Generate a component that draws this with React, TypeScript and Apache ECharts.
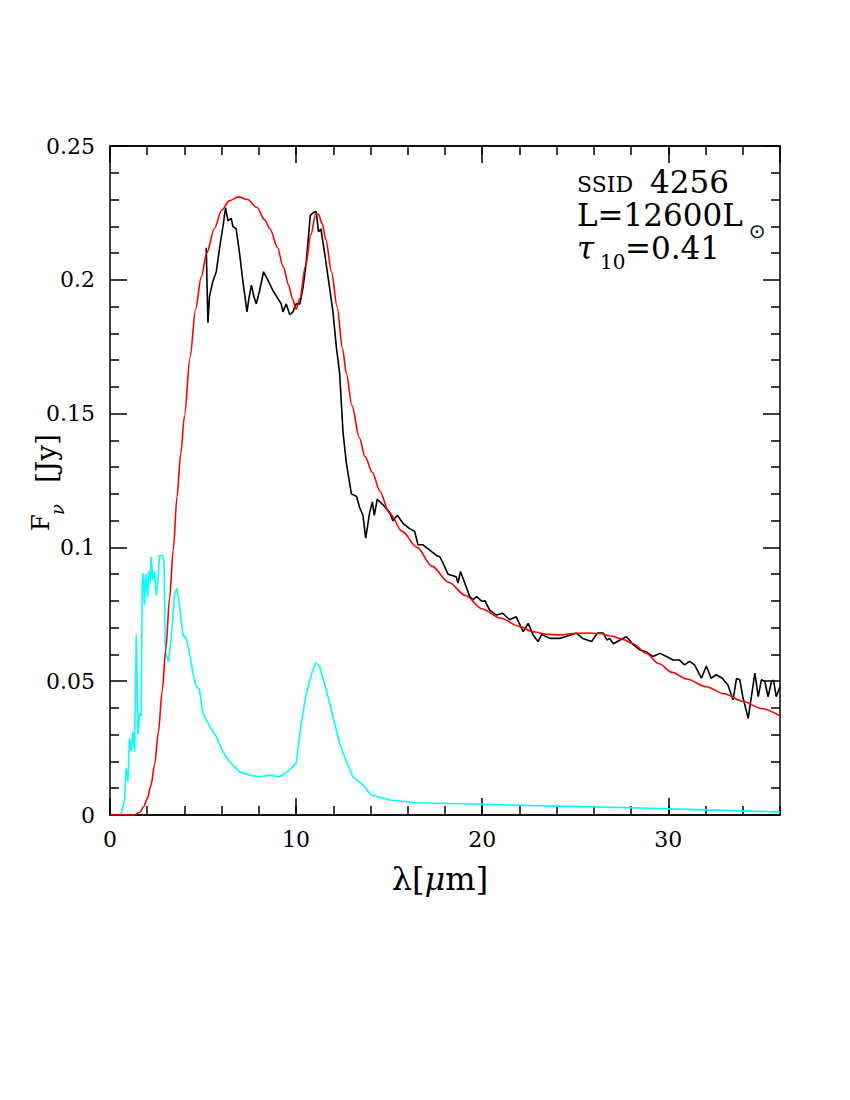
import React, { useEffect, useRef } from "react";
import * as echarts from "echarts";

// Observed spectrum (black): [lambda (um), F_nu (Jy)]
const observed: number[][] = [
  [5.17, 0.212], [5.26, 0.184], [5.35, 0.194], [5.51, 0.199], [5.71, 0.203], [5.89, 0.212], [6.07, 0.22], [6.21, 0.227],
  [6.34, 0.222], [6.51, 0.223], [6.6, 0.22], [6.78, 0.219], [6.96, 0.21], [7.13, 0.2], [7.36, 0.188], [7.46, 0.193],
  [7.6, 0.198], [7.72, 0.194], [7.86, 0.191], [8.04, 0.196], [8.25, 0.203], [8.48, 0.2], [8.75, 0.196], [8.93, 0.194],
  [9.2, 0.191], [9.29, 0.188], [9.47, 0.191], [9.65, 0.187], [9.83, 0.188], [10.0, 0.191], [10.2, 0.191], [10.37, 0.197],
  [10.55, 0.207], [10.76, 0.224], [10.9, 0.225], [11.08, 0.2255], [11.2, 0.218], [11.33, 0.219], [11.53, 0.21], [11.8, 0.197],
  [11.98, 0.188], [12.16, 0.175], [12.34, 0.165], [12.52, 0.143], [12.7, 0.1315], [12.97, 0.12], [13.25, 0.119], [13.41, 0.115],
  [13.59, 0.112], [13.74, 0.1035], [13.95, 0.113], [14.1, 0.117], [14.2, 0.112], [14.36, 0.118], [14.66, 0.116], [15.03, 0.113],
  [15.2, 0.11], [15.44, 0.112], [15.74, 0.109], [16.1, 0.107], [16.37, 0.106], [16.55, 0.101], [16.8, 0.101], [17.18, 0.099],
  [17.54, 0.097], [17.72, 0.0965], [17.9, 0.094], [18.16, 0.09], [18.6, 0.089], [18.7, 0.0867], [18.83, 0.091], [19.06, 0.0867],
  [19.33, 0.0816], [19.5, 0.0804], [19.7, 0.0816], [19.97, 0.0799], [20.15, 0.08], [20.4, 0.0766], [20.76, 0.0747], [21.1, 0.0754],
  [21.47, 0.073], [21.82, 0.0741], [22.2, 0.0685], [22.47, 0.0716], [22.74, 0.0672], [23.0, 0.0648], [23.2, 0.0675], [23.63, 0.066],
  [24.17, 0.066], [24.5, 0.0667], [25.06, 0.068], [25.4, 0.066], [25.87, 0.0648], [26.2, 0.068], [26.5, 0.068], [26.7, 0.0654],
  [26.85, 0.066], [27.05, 0.064], [27.4, 0.0654], [27.75, 0.0666], [28.1, 0.0638], [28.47, 0.0617], [28.8, 0.061], [29.18, 0.0592],
  [29.54, 0.0604], [29.9, 0.0592], [30.26, 0.0579], [30.6, 0.0579], [30.87, 0.0561], [31.14, 0.0574], [31.41, 0.0561], [31.78, 0.0511],
  [32.04, 0.0557], [32.3, 0.0511], [32.57, 0.0524], [32.9, 0.0511], [33.2, 0.0486], [33.48, 0.043], [33.66, 0.051], [33.84, 0.0505],
  [34.0, 0.0442], [34.29, 0.0361], [34.65, 0.053], [34.83, 0.0442], [35.0, 0.0505], [35.18, 0.05], [35.36, 0.0442], [35.54, 0.0498],
  [35.65, 0.0504], [35.8, 0.0442], [36.0, 0.048],
];

// Model fit (red)
const model: number[][] = [
  [0, 0], [1.3, 0], [1.6, 0.001], [1.8, 0.003], [2.0, 0.006], [2.2, 0.011], [2.4, 0.019], [2.6, 0.031], [2.8, 0.046],
  [3.0, 0.062], [3.2, 0.081], [3.4, 0.099], [3.6, 0.119], [3.8, 0.135], [4.0, 0.149], [4.3, 0.171], [4.6, 0.189],
  [4.9, 0.201], [5.2, 0.21], [5.6, 0.219], [6.0, 0.226], [6.4, 0.2295], [6.9, 0.231], [7.4, 0.23], [7.9, 0.227],
  [8.3, 0.2225], [8.6, 0.219], [9.0, 0.212], [9.3, 0.205], [9.6, 0.198], [9.8, 0.193], [10.0, 0.189], [10.2, 0.193],
  [10.5, 0.205], [10.8, 0.217], [11.05, 0.2245], [11.2, 0.2245], [11.4, 0.221], [11.6, 0.215], [11.9, 0.203], [12.2, 0.19],
  [12.5, 0.174], [12.7, 0.165], [13.0, 0.153], [13.4, 0.141], [13.7, 0.134], [14.1, 0.128], [14.5, 0.121], [15.0, 0.113],
  [15.7, 0.106], [16.5, 0.1], [17.3, 0.093], [18.2, 0.087], [19.1, 0.082], [20.0, 0.077], [21.0, 0.0735], [22.0, 0.0705],
  [22.7, 0.0685], [23.5, 0.0675], [24.2, 0.0673], [24.9, 0.0678], [25.6, 0.068], [26.3, 0.0678], [27.0, 0.0668], [27.6, 0.0655],
  [28.1, 0.064], [28.8, 0.0605], [29.5, 0.0565], [30.2, 0.0533], [31.0, 0.0508], [32.0, 0.048], [33.0, 0.0453], [34.0, 0.0425],
  [35.0, 0.0398], [36, 0.037],
];

// Stellar / dust component (cyan)
const component: number[][] = [
  [0.5, 0], [0.6, 0.0006], [0.78, 0.0056], [0.87, 0.0175], [0.96, 0.0125], [1.05, 0.0288], [1.14, 0.024], [1.23, 0.031],
  [1.32, 0.0236], [1.41, 0.0673], [1.5, 0.03], [1.59, 0.038], [1.68, 0.037], [1.73, 0.0866], [1.8, 0.0904], [1.85, 0.0785],
  [1.94, 0.09], [2.03, 0.0815], [2.08, 0.091], [2.17, 0.0866], [2.21, 0.0965], [2.3, 0.0879], [2.39, 0.091], [2.48, 0.082],
  [2.57, 0.087], [2.66, 0.097], [2.8, 0.097], [2.9, 0.095], [2.98, 0.0604], [3.15, 0.0573], [3.3, 0.067], [3.47, 0.0829],
  [3.6, 0.0847], [3.74, 0.0781], [3.92, 0.0673], [4.1, 0.066], [4.28, 0.0604], [4.45, 0.053], [4.63, 0.048], [4.8, 0.047],
  [4.99, 0.038], [5.35, 0.0333], [5.71, 0.0293], [6.07, 0.0236], [6.42, 0.0199], [6.96, 0.0162], [7.5, 0.0149], [8.04, 0.0143],
  [8.58, 0.0149], [9.11, 0.0143], [9.65, 0.0168], [10.0, 0.0193], [10.28, 0.0343], [10.55, 0.0455], [10.82, 0.0523], [11.05, 0.057],
  [11.26, 0.0555], [11.62, 0.0467], [11.98, 0.0368], [12.34, 0.0268], [12.6, 0.0218], [13.05, 0.0143], [13.59, 0.0112], [14.04, 0.0075],
  [15.03, 0.0056], [16.46, 0.0046], [18.25, 0.0043], [20, 0.004], [24, 0.0033], [28, 0.0027], [32, 0.0019], [36, 0.0011],
];

const X_MIN = 0;
const X_MAX = 36;
const Y_MIN = 0;
const Y_MAX = 0.25;

const FONT = '"DejaVu Serif", serif';
const AXIS_COLOR = "#000";

function xAxisDef(position: "bottom" | "top", interval: number, len: number, labels: boolean) {
  return {
    type: "value",
    position,
    min: X_MIN,
    max: X_MAX,
    interval,
    axisLine: { show: true, onZero: false, lineStyle: { color: AXIS_COLOR, width: 1.5 } },
    axisTick: { show: true, inside: true, length: len, lineStyle: { color: AXIS_COLOR, width: 1.5 } },
    axisLabel: {
      show: labels,
      fontFamily: FONT,
      fontSize: 22,
      color: "#000",
      margin: 13,
      showMaxLabel: false,
    },
    splitLine: { show: false },
  };
}

function yAxisDef(position: "left" | "right", labels: boolean) {
  return {
    type: "value",
    position,
    min: Y_MIN,
    max: Y_MAX,
    interval: 0.05,
    axisLine: { show: true, onZero: false, lineStyle: { color: AXIS_COLOR, width: 1.5 } },
    axisTick: { show: true, inside: true, length: 17, lineStyle: { color: AXIS_COLOR, width: 1.5 } },
    minorTick: { show: true, splitNumber: 5, length: 9, lineStyle: { color: AXIS_COLOR, width: 1.5 } },
    axisLabel: { show: labels, fontFamily: FONT, fontSize: 22, color: "#000", margin: 15 },
    splitLine: { show: false },
    minorSplitLine: { show: false },
  };
}

function txt(text: string, x: number, y: number, size: number, opts: any = {}) {
  return {
    type: "text",
    x,
    y,
    style: {
      text,
      font: `${opts.italic ? "italic " : ""}${size}px ${opts.family || FONT}`,
      fill: "#000",
      lineHeight: opts.lineHeight || Math.round(size * 0.9),
      textAlign: opts.align || "left",
      textVerticalAlign: "middle",
      align: opts.align || "left",
      verticalAlign: "middle",
    },
  };
}

export default function App() {
  const ref = useRef<HTMLDivElement>(null);

  useEffect(() => {
    if (!ref.current) return;
    const chart = echarts.init(ref.current, undefined, { renderer: "svg" });
    const lineSeries = (name: string, data: number[][], color: string, z: number, smooth: number | boolean) => ({
      type: "line",
      name,
      data,
      xAxisIndex: 0,
      yAxisIndex: 0,
      showSymbol: false,
      symbol: "none",
      smooth,
      smoothMonotone: "x",
      lineStyle: { color, width: 1.6 },
      z,
    });
    const option: any = {
      animation: false,
      backgroundColor: "#fff",
      grid: { left: 110, top: 146, right: 70, bottom: 285, containLabel: false },
      xAxis: [
        xAxisDef("bottom", 10, 17, true),
        xAxisDef("bottom", 2, 9, false),
        xAxisDef("top", 10, 17, false),
        xAxisDef("top", 2, 9, false),
      ],
      yAxis: [yAxisDef("left", true), yAxisDef("right", false)],
      series: [
        lineSeries("component", component, "#00ffff", 3, false),
        lineSeries("observed", observed, "#000000", 4, false),
        lineSeries("model", model, "#ff0000", 5, 0.3),
      ],
      graphic: [
        // annotation block
        txt("SSID", 577, 184.5, 22),
        txt("4256", 650, 182, 31, { lineHeight: 26 }),
        txt("L=12600L", 577, 215, 31, { lineHeight: 26 }),
        txt("⊙", 757, 231, 20, { align: "center", family: '"DejaVu Sans", sans-serif', lineHeight: 16 }),
        txt("τ", 577, 248, 31, { italic: true, lineHeight: 24 }),
        txt("10", 600, 262, 20, { lineHeight: 16 }),
        txt("=0.41", 625, 248, 31, { lineHeight: 26 }),
        // x axis title
        {
          type: "text",
          x: 440,
          y: 879,
          style: {
            text: "{a|λ[}{b|μ}{a|m]}",
            rich: {
              a: { fontFamily: FONT, fontSize: 32, fill: "#000", color: "#000" },
              b: { fontFamily: FONT, fontSize: 32, fontStyle: "italic", fill: "#000", color: "#000" },
            },
            textAlign: "center",
            textVerticalAlign: "middle",
            align: "center",
            verticalAlign: "middle",
          },
        },
        // y axis title (rotated)
        {
          type: "group",
          x: 45,
          y: 481,
          rotation: Math.PI / 2,
          children: [
            txt("F", -50, -4.5, 24),
            txt("ν", -34, 12, 18, { italic: true }),
            txt("[Jy]", -2, 1, 28),
          ],
        },
      ],
    };
    chart.setOption(option);
    return () => chart.dispose();
  }, []);

  return (
    <div
      ref={ref}
      style={{ position: "absolute", left: 0, top: 0, width: 850, height: 1100, background: "#fff" }}
    />
  );
}
